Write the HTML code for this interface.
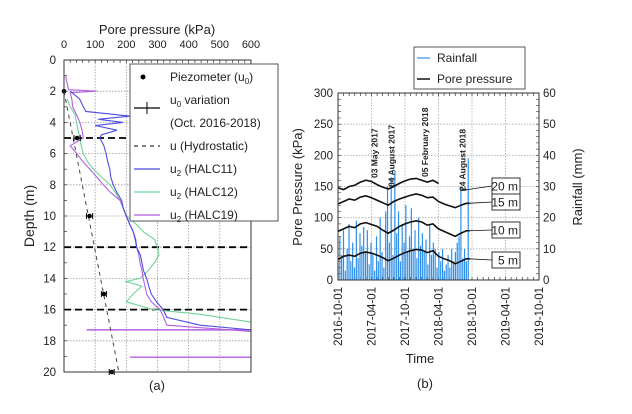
<!DOCTYPE html>
<html><head><meta charset="utf-8"><style>
body{margin:0;background:#fff}
svg{font-family:"Liberation Sans",sans-serif}
</style></head><body>
<svg id="fig" width="632" height="409" viewBox="0 0 632 409"></svg>
<script>
// ---------- Panel (a) data ----------
const depthTicks=[0,2,4,6,8,10,12,14,16,18,20];
const pressTicks=[0,100,200,300,400,500,600];
const piezoDepth=[2,5,10,15,20];
const piezoValue=[0,42,82,128,153];
const piezoErr=[0,10,10,8,8];
const hydroDepth=[2,20];
const hydroValue=[0,176];
const layerDepths=[5,12,16];
const halc11D=[2,2.5,3,3.3,3.6,3.8,4,4.2,4.5,4.8,5,5.5,6,6.5,7,7.5,8,8.5,9,9.5,10,10.5,11,11.5,12,12.5,13,13.5,14,14.5,15,15.5,16,16.5,17,17.3];
const halc11V=[20,50,62,70,212,110,190,100,170,120,115,128,135,140,147,150,158,170,185,190,200,210,222,230,233,245,250,255,265,272,280,297,318,330,437,600];
const halc12D=[2.5,3,3.5,4,4.5,5,5.5,6,6.5,7,7.5,8,8.5,9,9.5,10,10.5,11,11.5,12,12.5,13,13.5,14,14.2,14.5,15,15.5,16,16.3,16.8];
const halc12V=[10,20,35,40,45,51,55,62,75,94,120,148,165,180,190,200,230,254,290,300,305,290,270,244,200,250,222,200,286,437,600];
const halc19D=[1,1.5,1.9,2,2.1,2.5,3,3.5,4,4.5,5,5.5,6,6.5,7,7.5,8,8.5,9,9.5,10,10.5,11,11.5,12,12.5,13,13.5,14,14.5,15,15.5,16,16.5,17,17.4];
const halc19V=[5,10,15,105,20,25,28,40,51,58,62,20,41,60,83,105,126,150,180,190,200,210,222,228,233,240,244,250,254,260,265,280,308,320,330,600];
const halc19SpikeD=[17.3,19.05];
const halc19SpikeFrom=[73,212];

// ---------- Panel (b) data ----------
const leftTicks=[0,50,100,150,200,250,300];
const rightTicks=[0,10,20,30,40,50,60];
const timeLabels=["2016-10-01","2017-04-01","2017-10-01","2018-04-01","2018-10-01","2019-04-01","2019-10-01"];
const months=[0,1,2,3,4,5,6,7,8,9,10,11,12,13,14,15,16,17,18,19,20,21,22,23,23.6];
const pp5=[33,38,40,38,43,45,43,40,36,31,35,40,44,47,49,48,44,47,38,34,31,26,30,34,34];
const pp10=[78,82,86,84,90,92,89,86,80,75,80,86,90,93,95,93,88,90,82,78,74,70,75,79,79];
const pp15=[122,126,130,128,133,135,132,128,124,120,126,130,133,136,138,136,132,133,126,122,119,116,120,123,123];
const pp20=[148,145,150,152,157,160,158,153,149,146,150,155,159,162,163,160,157,160,155,null,null,null,144,145,null];
const rain=[5,14,8,16,3,10,18,6,12,4,19,7,15,11,17,9,16,5,12,8,3,14,6,20,9,4,22,30,12,33,8,35,15,22,6,18,12,24,9,14,23,10,16,7,20,11,15,9,13,5,18,8,12,10,4,9,6,10,3,5,8,4,10,6,9,12,14,30,7,10,6,39];
const rainStepDays=10;
const annotations=[["03 May 2017",7.07,178],["04 August 2017",10.1,187],["05 February 2018",16.15,177],["24 August 2018",22.8,191]];
const depthLabels=["20 m","15 m","10 m","5 m"];

const NS="http://www.w3.org/2000/svg";
const svg=document.getElementById('fig');
function mk(tag,attrs,parent){const e=document.createElementNS(NS,tag);for(const k in attrs)e.setAttribute(k,attrs[k]);(parent||svg).appendChild(e);return e;}
function txt(s,attrs,parent){const e=mk('text',attrs,parent);e.textContent=s;return e;}

// ===== Panel (a) =====
const ax0=64,ax1=251,ay0=60,ay1=372;
const px=v=>ax0+(v/600)*(ax1-ax0);
const py=d=>ay0+(d/20)*(ay1-ay0);
const ga=mk('g',{});


pressTicks.forEach(v=>{if(v>0&&v<600){const l=mk('line',{x1:px(v),x2:px(v),y1:ay0,y2:ay1,stroke:'#999','stroke-dasharray':'1.5,1.5','stroke-width':0.8},ga);}});
depthTicks.forEach(d=>{if(d>0&&d<20){const l=mk('line',{x1:ax0,x2:ax1,y1:py(d),y2:py(d),stroke:'#999','stroke-dasharray':'1.5,1.5','stroke-width':0.8},ga);}});
for(let v=0;v<=600;v+=20){mk('line',{x1:px(v),x2:px(v),y1:ay0,y2:ay0+3,stroke:'#333','stroke-width':0.7},ga);}
for(let d=0;d<=20;d+=1){mk('line',{x1:ax0,x2:ax0+3,y1:py(d),y2:py(d),stroke:'#333','stroke-width':0.7},ga);}
layerDepths.forEach(d=>{const l=mk('line',{x1:ax0,x2:ax1,y1:py(d),y2:py(d),stroke:'#000','stroke-width':1.8,'stroke-dasharray':'7,4'},ga);});
function prof(D,V,col,name){const p=mk('polyline',{points:D.map((d,i)=>px(V[i])+','+py(d)).join(' '),fill:'none',stroke:col,'stroke-width':1.1},ga);}
prof(halc12D,halc12V,'#6fd49a','u2-halc12-line');
prof(halc19D,halc19V,'#b45ee0','u2-halc19-line');
halc19SpikeD.forEach((d,i)=>{const l=mk('line',{x1:px(halc19SpikeFrom[i]),x2:px(600),y1:py(d),y2:py(d),stroke:'#b45ee0','stroke-width':1.4},ga);
 });
prof(halc11D,halc11V,'#4a4ee0','u2-halc11-line');
const hl=mk('polyline',{points:hydroDepth.map((d,i)=>px(hydroValue[i])+','+py(d)).join(' '),fill:'none',stroke:'#444','stroke-width':1,'stroke-dasharray':'4,4'},ga);

piezoDepth.forEach((d,i)=>{const g=mk('g',{},ga);
 const e=piezoErr[i];if(e>0){mk('line',{x1:px(piezoValue[i]-e),x2:px(piezoValue[i]+e),y1:py(d),y2:py(d),stroke:'#000','stroke-width':1},g);
 [-e,e].forEach(o=>mk('line',{x1:px(piezoValue[i]+o),x2:px(piezoValue[i]+o),y1:py(d)-3,y2:py(d)+3,stroke:'#000'},g));}
 mk('circle',{cx:px(piezoValue[i]),cy:py(d),r:2.3,fill:'#000'},g);});
const fa=mk('rect',{x:ax0,y:ay0,width:ax1-ax0,height:ay1-ay0,fill:'none',stroke:'#333','stroke-width':1},ga);

pressTicks.forEach(v=>{const t=txt(String(v),{x:px(v),y:48,'font-size':11,'text-anchor':'middle',fill:'#222'},ga);});
depthTicks.forEach(d=>{const t=txt(String(d),{x:56,y:py(d)+4,'font-size':11.5,'text-anchor':'end',fill:'#222'},ga);});
txt('Pore pressure (kPa)',{x:157,y:34,'font-size':13,'text-anchor':'middle',fill:'#222',},ga);
txt('Depth (m)',{x:34,y:216,'font-size':14,'text-anchor':'middle',fill:'#222',transform:'rotate(-90 34 216)',},ga);
txt('(a)',{x:157,y:390,'font-size':13,'text-anchor':'middle',fill:'#222',},ga);
const la=mk('g',{},ga);
mk('rect',{x:130,y:64,width:148,height:157,fill:'#fff',stroke:'#555'},la);
mk('circle',{cx:143,cy:77,r:2.5,fill:'#000'},la);
txt('',{x:170,y:81,'font-size':12,fill:'#222'},la).innerHTML='Piezometer (u<tspan font-size="8" dy="3">0</tspan><tspan dy="-3">)</tspan>';
mk('line',{x1:134,x2:160,y1:108,y2:108,stroke:'#000','stroke-width':1.2},la);mk('line',{x1:147,x2:147,y1:102,y2:114,stroke:'#000'},la);
txt('',{x:170,y:104,'font-size':12,fill:'#222'},la).innerHTML='u<tspan font-size="8" dy="3">0</tspan><tspan dy="-3"> variation</tspan>';
txt('(Oct. 2016-2018)',{x:170,y:127,'font-size':12,fill:'#222'},la);
mk('line',{x1:134,x2:160,y1:146,y2:146,stroke:'#000','stroke-width':1,'stroke-dasharray':'4,4'},la);
txt('u (Hydrostatic)',{x:170,y:150,'font-size':12,fill:'#222'},la);
[['HALC11','#4a4ee0',169],['HALC12','#6fd49a',192],['HALC19','#b45ee0',215]].forEach(a=>{
 mk('line',{x1:134,x2:160,y1:a[2],y2:a[2],stroke:a[1],'stroke-width':1.2},la);
 txt('',{x:170,y:a[2]+4,'font-size':12,fill:'#222'},la).innerHTML='u<tspan font-size="8" dy="3">2</tspan><tspan dy="-3"> ('+a[0]+')</tspan>';});

// ===== Panel (b) =====
const bx0=338,bx1=539,by0=93,by1=280;
const tx=m=>bx0+(m/36)*(bx1-bx0);
const yl=v=>by1-(v/300)*(by1-by0);
const yr=v=>by1-(v/60)*(by1-by0);
const gb=mk('g',{});

timeLabels.forEach((s,i)=>{if(i>0&&i<6){mk('line',{x1:tx(i*6),x2:tx(i*6),y1:by0,y2:by1,stroke:'#aaa','stroke-dasharray':'1.5,1.5','stroke-width':0.8},gb);}});
leftTicks.forEach(v=>{if(v>0&&v<300)mk('line',{x1:bx0,x2:bx1,y1:yl(v),y2:yl(v),stroke:'#aaa','stroke-dasharray':'1.5,1.5','stroke-width':0.8},gb);});
for(let m=0;m<=36;m+=1){mk('line',{x1:tx(m),x2:tx(m),y1:by0,y2:by0+3,stroke:'#333','stroke-width':0.7},gb);mk('line',{x1:tx(m),x2:tx(m),y1:by1,y2:by1-3,stroke:'#333','stroke-width':0.7},gb);}
for(let v=0;v<=300;v+=10){mk('line',{x1:bx0,x2:bx0+3,y1:yl(v),y2:yl(v),stroke:'#333','stroke-width':0.6},gb);mk('line',{x1:bx1,x2:bx1-3,y1:yl(v),y2:yl(v),stroke:'#333','stroke-width':0.6},gb);}
rain.forEach((r,i)=>{const m=i*rainStepDays/30.44;const b=mk('rect',{x:tx(m)-0.6,y:yr(r),width:1.2,height:by1-yr(r),fill:'#2f8fe8'},gb);
 });
[[pp20,'pore-pressure-20m'],[pp15,'pore-pressure-15m'],[pp10,'pore-pressure-10m'],[pp5,'pore-pressure-5m']].forEach(s=>{
 let segs=[],cur=[];s[0].forEach((v,i)=>{if(v==null){if(cur.length)segs.push(cur);cur=[];}else cur.push(tx(months[i])+','+yl(v));});if(cur.length)segs.push(cur);
 segs.forEach(sg=>{const p=mk('polyline',{points:sg.join(' '),fill:'none',stroke:'#111','stroke-width':1.6},gb);});});
annotations.forEach(a=>{const x=tx(a[1]);const t=txt(a[0],{x:x,y:a[2],'font-size':8.5,'font-weight':'bold',fill:'#222',transform:'rotate(-90 '+x+' '+a[2]+')'},gb);
 });
const dlY=[186,202,230,260];const serEnd=[[pp20,22],[pp15,23],[pp10,23],[pp5,23]];
depthLabels.forEach((s,i)=>{const g=mk('g',{},gb);
 const se=serEnd[i];mk('line',{x1:tx(months[se[1]])+2,y1:yl(se[0][se[1]]),x2:492,y2:dlY[i],stroke:'#111','stroke-width':0.8},g);
 mk('rect',{x:492,y:dlY[i]-8,width:28,height:16,fill:'#fff',stroke:'#333'},g);
 txt(s,{x:518,y:dlY[i]+4.5,'font-size':12,'text-anchor':'end',fill:'#222'},g);});
const fb=mk('rect',{x:bx0,y:by0,width:bx1-bx0,height:by1-by0,fill:'none',stroke:'#333','stroke-width':1},gb);

leftTicks.forEach(v=>{const t=txt(String(v),{x:333,y:yl(v)+4,'font-size':11.5,'text-anchor':'end',fill:'#222'},gb);});
rightTicks.forEach(v=>{const t=txt(String(v),{x:543,y:yr(v)+4,'font-size':11.5,fill:'#222'},gb);});
timeLabels.forEach((s,i)=>{const x=tx(i*6)+4;const t=txt(s,{x:x,y:287,'font-size':11.5,'text-anchor':'end',fill:'#222',transform:'rotate(-90 '+x+' 287)'},gb);});
txt('Pore Pressure (kPa)',{x:302,y:187,'font-size':13,'text-anchor':'middle',fill:'#222',transform:'rotate(-90 302 187)',},gb);
txt('Rainfall (mm)',{x:582,y:187,'font-size':13,'text-anchor':'middle',fill:'#222',transform:'rotate(-90 582 187)',},gb);
txt('Time',{x:420,y:363,'font-size':13,'text-anchor':'middle',fill:'#222',},gb);
txt('(b)',{x:425,y:388,'font-size':13,'text-anchor':'middle',fill:'#222',},gb);
const lb=mk('g',{},gb);
mk('rect',{x:414,y:47,width:111,height:42,fill:'#fff',stroke:'#555'},lb);
mk('line',{x1:417,x2:430,y1:58,y2:58,stroke:'#2f8fe8','stroke-width':1.2},lb);
txt('Rainfall',{x:437,y:62,'font-size':12,fill:'#222'},lb);
mk('line',{x1:417,x2:430,y1:79,y2:79,stroke:'#111','stroke-width':1.5},lb);
txt('Pore pressure',{x:437,y:83,'font-size':12,fill:'#222'},lb);
</script>
</body></html>
